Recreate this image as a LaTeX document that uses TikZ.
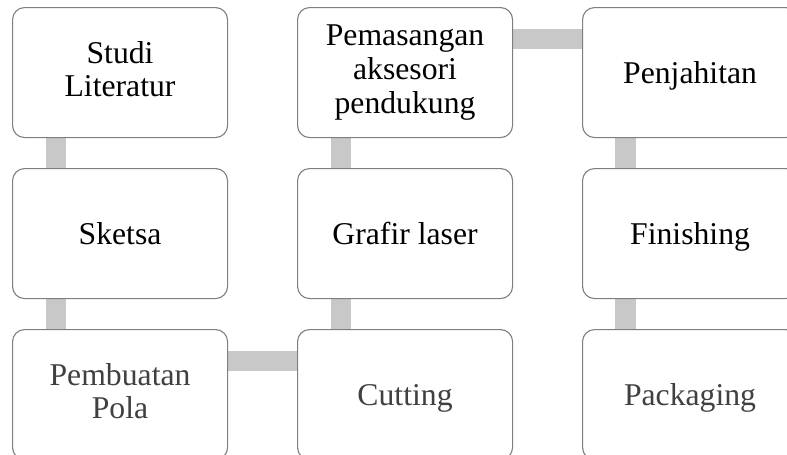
\documentclass[tikz,border=0pt]{standalone}
\usepackage{fontspec}
\setmainfont{Liberation Serif}
\usetikzlibrary{calc,backgrounds}
\definecolor{conngray}{HTML}{C8C8C8}
\definecolor{bordergray}{HTML}{7F7F7F}
\definecolor{softtext}{HTML}{404040}
\tikzset{
  box/.style={draw=bordergray, line width=1.1pt, fill=white, rounded corners=12pt,
    minimum width=215pt, minimum height=130pt, inner sep=0pt, anchor=north west,
    align=center, font=\fontsize{31.7}{33.6}\selectfont,
    execute at begin node={\rule{0pt}{28.2pt}},
    execute at end node={\rule[-6.85pt]{0pt}{0pt}}},
  lowbox/.style={box, text=softtext},
  conn/.style={fill=conngray, draw=none}
}
\begin{document}
\begin{tikzpicture}[x=1pt,y=-1pt]
\useasboundingbox (0,0) rectangle (787,455);
\clip (0,0) rectangle (787,455);
% nodes
\node[box] (studi) at (12,7) {Studi\\Literatur};
\node[box] (sketsa) at (12,168) {Sketsa};
\node[lowbox] (pola) at (12,329) {Pembuatan\\Pola};
\node[lowbox] (cutting) at (297,329) {Cutting};
\node[box] (grafir) at (297,168) {Grafir laser};
\node[box] (pemasangan) at (297,7) {Pemasangan\\aksesori\\pendukung};
\node[box] (penjahitan) at (582,7) {Penjahitan};
\node[box] (finishing) at (582,168) {Finishing};
\node[lowbox] (packaging) at (582,329) {Packaging};
% connectors (behind boxes)
\begin{pgfonlayer}{background}
\fill[conn] ($(studi.south west)+(34,-2)$) rectangle ($(sketsa.north west)+(54,2)$);
\fill[conn] ($(sketsa.south west)+(34,-2)$) rectangle ($(pola.north west)+(54,2)$);
\fill[conn] ($(pola.north east)+(-2,22)$) rectangle ($(cutting.north west)+(2,42)$);
\fill[conn] ($(grafir.south west)+(34,-2)$) rectangle ($(cutting.north west)+(54,2)$);
\fill[conn] ($(pemasangan.south west)+(34,-2)$) rectangle ($(grafir.north west)+(54,2)$);
\fill[conn] ($(pemasangan.north east)+(-2,22)$) rectangle ($(penjahitan.north west)+(2,42)$);
\fill[conn] ($(penjahitan.south west)+(33,-2)$) rectangle ($(finishing.north west)+(54,2)$);
\fill[conn] ($(finishing.south west)+(33,-2)$) rectangle ($(packaging.north west)+(54,2)$);
\end{pgfonlayer}
\end{tikzpicture}
\end{document}
